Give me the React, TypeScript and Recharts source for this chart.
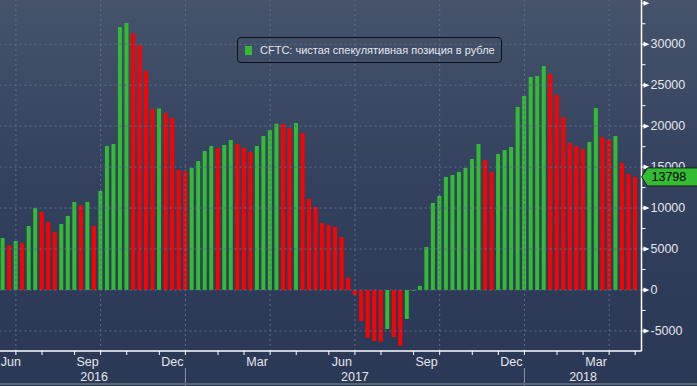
import { BarChart, Bar, Cell, XAxis, YAxis, ReferenceLine, Legend } from "recharts";

// weekly CFTC report dates start here (Tuesdays)
const firstWeek = "2016-06-21";

// net speculative position in rouble, contracts
const netPosition = [
    6350, 5450, 5980, 5700, 7810, 10000, 9520, 8300, 7080, 8060,
    9040, 10740, 10340, 10760, 7810, 12090, 17580, 17830, 32110, 32600,
    31340, 29870, 26740, 22100, 22150, 21610, 21000, 14650, 14490, 14900,
    15750, 16970, 17580, 17340, 17700, 18300, 17830, 17340, 16850, 17580,
    18800, 19540, 20300, 20250, 19780, 20390, 19170, 11110, 10130, 8180,
    7940, 7690, 6470, 1500, -610, -3790, -5820, -6230, -6310, -4760,
    -5740, -6800, -3540, -90, 490, 5250, 10620, 11480, 13800, 14040,
    14410, 14900, 16000, 17830, 15870, 14410, 16600, 17090, 17460, 22340,
    23690, 26000, 26130, 27350, 26370, 23810, 21120, 17950, 17580, 17220,
    18070, 22220, 18680, 18320, 18800, 15510, 14160, 13798,
];

const seriesName = "CFTC: чистая спекулятивная позиция в рубле";
const monthNames = ["Jan", "Feb", "Mar", "Apr", "May", "Jun", "Jul", "Aug", "Sep", "Oct", "Nov", "Dec"];
const labelledMonths = [2, 5, 8, 11];
const gridMonths = [0, 3, 6, 9];
const majorTicks = [-5000, 0, 5000, 10000, 15000, 20000, 25000, 30000, 35000];
const minorTicks = [-2500, 2500, 7500, 12500, 17500, 22500, 27500, 32500];
const gridValues = [-5000, 0, 5000, 10000, 15000, 20000, 25000, 30000];

const UP = "#33bb33";
const DOWN = "#ff0000";
const TEXT = "#e4e6ec";
const FONT = "'Liberation Sans', Arial, sans-serif";

const start = new Date(firstWeek + "T00:00:00Z");
const data = netPosition.map((value, i) => {
    const d = new Date(start.getTime() + i * 7 * 86400000);
    return {
        date: d.toISOString().slice(0, 10),
        month: d.getUTCMonth(),
        year: d.getUTCFullYear(),
        value,
        up: i === 0 || value >= netPosition[i - 1],
    };
});
const lastValue = netPosition[netPosition.length - 1];

// first week of each month / year
const monthStarts = data.map((d, i) => i).filter((i) => i > 0 && data[i].month !== data[i - 1].month);
const yearStarts = monthStarts.filter((i) => data[i].month === 0);

const monthLabels: Record<number, { text: string; anchorStart: boolean }> = {};
[0, ...monthStarts].forEach((s, k, arr) => {
    const m = data[s].month;
    if (!labelledMonths.includes(m)) return;
    if (s === 0) {
        monthLabels[0] = { text: monthNames[m], anchorStart: true };
        return;
    }
    const n = arr[k + 1] ?? data.length;
    monthLabels[Math.round((s + n) / 2)] = { text: monthNames[m], anchorStart: false };
});

const yearLabels: Record<number, string> = {};
[0, ...yearStarts].forEach((s, k, arr) => {
    const n = arr[k + 1] ?? data.length;
    yearLabels[Math.round((s + n) / 2)] = String(data[s].year);
});

const indexOf: Record<string, number> = {};
data.forEach((d, i) => (indexOf[d.date] = i));

const xTickIdx = Array.from(
    new Set([...monthStarts, ...Object.keys(monthLabels).map(Number), ...Object.keys(yearLabels).map(Number)])
).sort((a, b) => a - b);
const xTicks = xTickIdx.map((i) => data[i].date);
const gridDates = monthStarts.filter((i) => gridMonths.includes(data[i].month)).map((i) => data[i].date);

function DateTick({ x, y, payload }: any) {
    const i = indexOf[payload.value];
    const label = monthLabels[i];
    return (
        <g>
            {monthStarts.includes(i) && <line x1={x} x2={x} y1={y} y2={y + 4} stroke="#ffffff" />}
            {yearStarts.includes(i) && <line x1={x} x2={x} y1={y + 17} y2={y + 36} stroke="#8c93a3" />}
            {label && (
                <text
                    x={label.anchorStart ? x - 2 : x}
                    y={y + 11}
                    textAnchor={label.anchorStart ? "start" : "middle"}
                    dominantBaseline="central"
                    fill={TEXT}
                    fontSize={12.5}
                    fontFamily={FONT}
                >
                    {label.text}
                </text>
            )}
            {yearLabels[i] && (
                <text x={x} y={y + 26} textAnchor="middle" dominantBaseline="central" fill={TEXT} fontSize={12.5} fontFamily={FONT}>
                    {yearLabels[i]}
                </text>
            )}
        </g>
    );
}

function ValueTick({ x, y, payload }: any) {
    const v = payload.value;
    if (v === lastValue) {
        return (
            <g>
                <polygon
                    points={`${x},${y} ${x + 6},${y - 9} ${x + 56},${y - 9} ${x + 56},${y + 9} ${x + 6},${y + 9}`}
                    fill={UP}
                    stroke="#16261a"
                    strokeWidth={1}
                />
                <text x={x + 10} y={y} dominantBaseline="central" fill="#000000" fontSize={12.5} fontFamily={FONT}>
                    {v}
                </text>
            </g>
        );
    }
    if (majorTicks.includes(v)) {
        return (
            <g>
                <line x1={x} x2={x + 3} y1={y} y2={y} stroke="#ffffff" />
                <polygon points={`${x + 2},${y - 2.5} ${x + 8},${y} ${x + 2},${y + 2.5}`} fill="#ffffff" />
                {v !== 35000 && (
                    <text x={x + 9} y={y} dominantBaseline="central" fill={TEXT} fontSize={12.5} fontFamily={FONT}>
                        {v}
                    </text>
                )}
            </g>
        );
    }
    return <line x1={x} x2={x + 4} y1={y} y2={y} stroke="#ffffff" />;
}

function LegendBox() {
    return (
        <div
            style={{
                boxSizing: "border-box",
                height: 26,
                border: "1px solid #0c0f18",
                borderRadius: 4,
                padding: "0 6px 0 7px",
                display: "flex",
                alignItems: "center",
                fontFamily: FONT,
                fontSize: 11,
                color: TEXT,
                whiteSpace: "nowrap",
            }}
        >
            <span style={{ display: "inline-block", width: 7, height: 9, background: UP, marginRight: 8 }} />
            {seriesName}
        </div>
    );
}

export default function App() {
    return (
        <div
            style={{
                position: "relative",
                width: 697,
                height: 386,
                background: "linear-gradient(to bottom, #46536b 0%, #34425f 45%, #2d3a58 78%, #2c3956 100%)",
                overflow: "hidden",
            }}
        >
            <style>{"body{margin:0}"}</style>
            <BarChart width={697} height={386} data={data} margin={{ top: 0, right: 0, left: -0.4, bottom: 0 }}>
                {gridValues.map((v) => (
                    <ReferenceLine key={"h" + v} y={v} stroke="#5c6c89" strokeDasharray="2 3" />
                ))}
                {gridDates.map((d) => (
                    <ReferenceLine key={"v" + d} x={d} stroke="#5c6c89" strokeDasharray="2 3" />
                ))}
                <XAxis
                    dataKey="date"
                    height={35}
                    ticks={xTicks}
                    interval={0}
                    padding={{ left: 0, right: 3 }}
                    axisLine={{ stroke: "#ffffff", strokeWidth: 1.5 }}
                    tickLine={false}
                    tickSize={0}
                    tickMargin={0}
                    tick={<DateTick />}
                />
                <YAxis
                    orientation="right"
                    width={55.5}
                    type="number"
                    domain={[-7450, 35400]}
                    allowDataOverflow
                    ticks={[...majorTicks, ...minorTicks, lastValue]}
                    interval={0}
                    axisLine={{ stroke: "#ffffff", strokeWidth: 1.5 }}
                    tickLine={false}
                    tickSize={0}
                    tickMargin={0}
                    tick={<ValueTick />}
                />
                <Legend
                    layout="vertical"
                    align="center"
                    verticalAlign="middle"
                    wrapperStyle={{ top: 37, left: 237, width: "auto" }}
                    content={() => <LegendBox />}
                />
                <Bar dataKey="value" name={seriesName} barSize={4} isAnimationActive={false}>
                    {data.map((d) => (
                        <Cell key={d.date} fill={d.up ? UP : DOWN} />
                    ))}
                </Bar>
            </BarChart>
            <div style={{ position: "absolute", left: 0, right: 0, bottom: 1, height: 2, background: "#5b6376" }} />
        </div>
    );
}
